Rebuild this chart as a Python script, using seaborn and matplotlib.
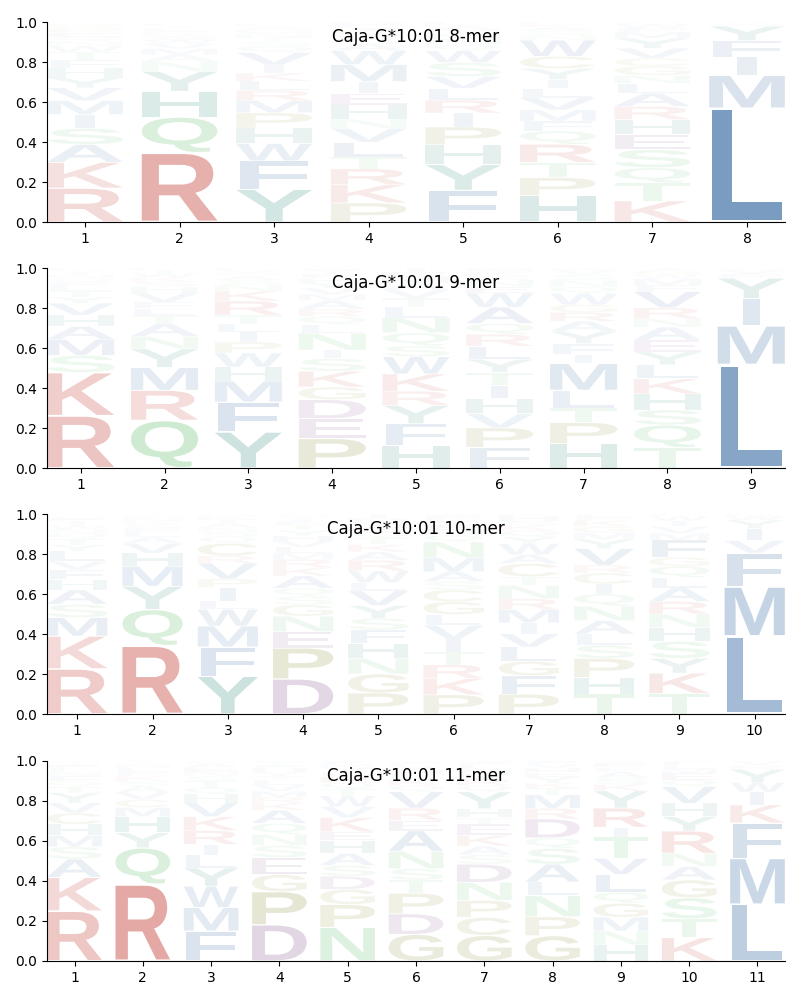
import numpy as np
import matplotlib
matplotlib.use("Agg")
import matplotlib.pyplot as plt
import seaborn as sns
from matplotlib.textpath import TextPath
from matplotlib.patches import PathPatch
from matplotlib.font_manager import FontProperties
from matplotlib.transforms import Affine2D

# ---------------- data (letters bottom -> top, heights = frequencies) ----------------
titles = ["Caja-G*10:01 8-mer", "Caja-G*10:01 9-mer", "Caja-G*10:01 10-mer", "Caja-G*10:01 11-mer"]

mer8_letters = [
    "RKASIMVYHFTWNQEPGDC",
    "RQHYNAMVWSKFLTEGP",
    "YFWHPMRLKIVQSTNGAEC",
    "PKRTLVNHEIMWASQGYFD",
    "FYHPIRLVSWQNMTAKE",
    "HPTRQFMVLIYCWNSAKE",
    "KTQSEHRALNGCVYMFWP",
    "LMIFYWV",
]
mer8_heights = [
    [.17, .13, .09, .08, .07, .07, .065, .05, .05, .04, .04, .03, .025, .02, .02, .02, .015, .01, .01],
    [.35, .18, .13, .10, .05, .035, .03, .025, .02, .02, .015, .015, .01, .01, .01, .005, .005],
    [.16, .14, .085, .075, .075, .06, .05, .045, .04, .04, .06, .03, .025, .02, .02, .02, .015, .01, .01],
    [.09, .085, .075, .055, .07, .065, .045, .065, .055, .055, .08, .065, .03, .025, .02, .02, .015, .015, .01],
    [.16, .13, .10, .09, .07, .065, .06, .06, .07, .06, .03, .03, .025, .02, .02, .01, .01],
    [.13, .09, .075, .09, .065, .05, .055, .06, .045, .045, .055, .06, .08, .025, .02, .02, .015, .01],
    [.105, .09, .075, .09, .075, .075, .065, .065, .05, .04, .045, .04, .05, .05, .03, .02, .02, .01],
    [.555, .16, .09, .08, .07, .01, .01],
]

mer9_letters = [
    "RKSMAHVYTLFQNIWE",
    "QRMYNATLFVHSKWIE",
    "YFMHWPILTRKNSAQVE",
    "PEDGKSINLQRAMVYHFTW",
    "HFYRKWSQNLTVAMEI",
    "FPVHITYLRQAWENSKGM",
    "HPTLMIFYARGWQNSVK",
    "TQSHKLYEANRVFMWGI",
    "LMIYFVW",
]
mer9_heights = [
    [.26, .215, .085, .08, .065, .055, .06, .03, .03, .025, .02, .02, .015, .015, .01, .01],
    [.23, .145, .11, .09, .06, .06, .04, .035, .03, .045, .03, .025, .02, .02, .015, .01],
    [.18, .15, .105, .07, .07, .055, .05, .04, .045, .07, .05, .03, .025, .02, .015, .015, .01],
    [.14, .095, .09, .06, .075, .06, .04, .08, .04, .04, .035, .04, .03, .03, .025, .02, .02, .02, .01],
    [.105, .10, .085, .065, .08, .08, .05, .06, .07, .05, .04, .04, .03, .03, .02, .02],
    [.095, .09, .065, .07, .06, .06, .06, .06, .055, .05, .075, .065, .03, .03, .02, .015, .01, .01],
    [.11, .095, .065, .08, .12, .04, .05, .055, .045, .04, .035, .05, .03, .03, .025, .02, .01],
    [.095, .105, .07, .075, .07, .065, .06, .055, .06, .04, .05, .075, .03, .03, .02, .02, .01],
    [.51, .19, .135, .10, .02, .02, .01],
]

mer10_letters = [
    "RKMSAHFVLYTQNWIEGC",
    "RQYMHVALFSKNWT",
    "YFMWLIPVRCQSNATKG",
    "DPENGSQAKRMLVHYTFIWC",
    "PGNHFSYVLWRAKTQEMDI",
    "PKRTIVLGCSAMNQHEYFW",
    "PFGLVIMRNTCAWYQKSHE",
    "THPSLANQICRVYMGKFE",
    "TKYSHNRALQGFMVIWE",
    "LMFVIYWK",
]
mer10_heights = [
    [.22, .16, .09, .065, .07, .05, .05, .04, .05, .03, .03, .025, .02, .02, .02, .015, .01, .01],
    [.34, .18, .115, .10, .065, .05, .03, .025, .02, .02, .015, .015, .01, .01],
    [.18, .14, .10, .08, .04, .065, .04, .075, .035, .06, .03, .025, .02, .02, .02, .015, .01],
    [.17, .15, .08, .075, .055, .04, .04, .06, .04, .04, .03, .03, .03, .025, .025, .025, .02, .015, .01, .01],
    [.10, .09, .075, .07, .065, .055, .06, .07, .04, .055, .05, .04, .035, .03, .03, .025, .02, .02, .02],
    [.09, .075, .065, .06, .06, .065, .05, .06, .055, .04, .045, .065, .075, .03, .025, .025, .02, .02, .01],
    [.09, .085, .065, .065, .06, .05, .06, .05, .06, .04, .06, .04, .05, .03, .03, .025, .02, .02, .01],
    [.09, .075, .085, .06, .05, .06, .065, .055, .045, .05, .035, .075, .04, .03, .03, .025, .02, .01],
    [.09, .09, .065, .075, .06, .06, .055, .06, .045, .05, .04, .075, .03, .03, .025, .02, .01],
    [.38, .24, .165, .06, .06, .04, .02, .01],
]

mer11_letters = [
    "RKASMHCVYTQFNLEIG",
    "RQYHMCVASKFLNWT",
    "FMWYLIRKVHQTSNEAC",
    "DPGESNQAKRMVLTYHFIW",
    "NPGDSAHEKVWTQRLYMF",
    "GDPTSNAERVQKLHYFM",
    "GCPNDSAKETHYQRVMLFW",
    "GPNLASQDRMTKYEHVF",
    "HNMGQLVTIRYKSAFEW",
    "KTSGANRYHVQEMLF",
    "LMFKIWYRV",
]
mer11_heights = [
    [.245, .165, .09, .06, .055, .055, .055, .05, .05, .03, .025, .025, .02, .02, .015, .01, .01],
    [.38, .18, .075, .08, .045, .04, .035, .03, .025, .025, .02, .02, .015, .01, .01],
    [.14, .11, .10, .085, .06, .05, .065, .065, .065, .04, .03, .03, .025, .02, .02, .02, .01],
    [.18, .165, .085, .085, .06, .055, .055, .065, .035, .03, .03, .03, .025, .02, .02, .02, .015, .01, .01],
    [.155, .105, .07, .06, .05, .055, .06, .04, .065, .05, .05, .03, .03, .03, .02, .02, .015, .015],
    [.13, .10, .10, .065, .055, .085, .10, .05, .06, .08, .03, .03, .025, .02, .02, .015, .01],
    [.12, .085, .08, .085, .085, .045, .04, .05, .055, .03, .04, .08, .03, .03, .025, .02, .02, .01, .01],
    [.12, .09, .10, .065, .085, .075, .05, .09, .05, .065, .03, .025, .03, .02, .02, .02, .015],
    [.075, .065, .065, .065, .05, .085, .075, .10, .045, .09, .08, .03, .03, .03, .02, .02, .01],
    [.105, .085, .095, .08, .06, .06, .10, .065, .06, .075, .03, .03, .02, .02, .015],
    [.265, .215, .165, .085, .06, .045, .06, .02, .02],
]

panels_letters = [mer8_letters, mer9_letters, mer10_letters, mer11_letters]
panels_heights = [mer8_heights, mer9_heights, mer10_heights, mer11_heights]

# residue colour groups
group_colors = {
    "KR": "#c9534a",
    "AVLIMFW": "#4c7aac",
    "HY": "#2f8a7c",
    "NQST": "#62c070",
    "DE": "#844e8d",
    "GPC": "#8f8f3a",
}
letter_color = {c: col for grp, col in group_colors.items() for c in grp}

# ---------------- drawing ----------------
sns.set_style("white")
plt.rcParams["font.family"] = ["DejaVu Sans"]
plt.rcParams.update({"axes.edgecolor": "black", "axes.linewidth": 0.8,
                     "xtick.color": "black", "ytick.color": "black",
                     "xtick.labelcolor": "black", "ytick.labelcolor": "black",
                     "text.color": "black",
                     "xtick.bottom": True, "ytick.left": True,
                     "xtick.major.size": 3.5, "ytick.major.size": 3.5,
                     "font.size": 10})

fp = FontProperties(family="Liberation Sans", weight="bold")
E_WIDTH = TextPath((0, 0), "E", size=1, prop=fp).get_extents().width


def draw_glyph(ax, ch, x, y0, h, color, alpha, width=0.8, vpad=0.04):
    tp = TextPath((0, 0), ch, size=1, prop=fp)
    ext = tp.get_extents()
    sx = width / max(ext.width, E_WIDTH)
    sy = h * (1 - vpad) / ext.height
    tr = (Affine2D().translate(-ext.x0 - ext.width / 2.0, -ext.y0)
          .scale(sx, sy).translate(x, y0 + h * vpad / 2.0))
    path = tr.transform_path(tp)
    ax.add_patch(PathPatch(path, facecolor=color, edgecolor="none", alpha=alpha, zorder=2))


fig = plt.figure(figsize=(8, 10), dpi=100)
bottoms = [0.778, 0.532, 0.286, 0.039]

for title, letters, heights, b in zip(titles, panels_letters, panels_heights, bottoms):
    ax = fig.add_axes([0.059, b, 0.922, 0.2])
    n = len(letters)
    for i, (lets, hs) in enumerate(zip(letters, heights)):
        hs = np.asarray(hs, dtype=float)
        hs = hs / hs.sum()
        y = 0.0
        for ch, h in zip(lets, hs):
            alpha = float(min(1.0, 1.3 * h))
            draw_glyph(ax, ch, i + 1, y, h, letter_color[ch], alpha)
            y += h
    ax.set_xlim(0.6, n + 0.4)
    ax.set_ylim(0, 1)
    ax.set_xticks(range(1, n + 1))
    ax.set_xticklabels([str(k) for k in range(1, n + 1)])
    ax.set_yticks([0.0, 0.2, 0.4, 0.6, 0.8, 1.0])
    ax.set_yticklabels(["0.0", "0.2", "0.4", "0.6", "0.8", "1.0"])
    ax.text(0.5, 0.925, title, transform=ax.transAxes, ha="center", va="center",
            fontsize=12, color="black", zorder=5)
    sns.despine(ax=ax)

fig.savefig("out.png", dpi=100)
